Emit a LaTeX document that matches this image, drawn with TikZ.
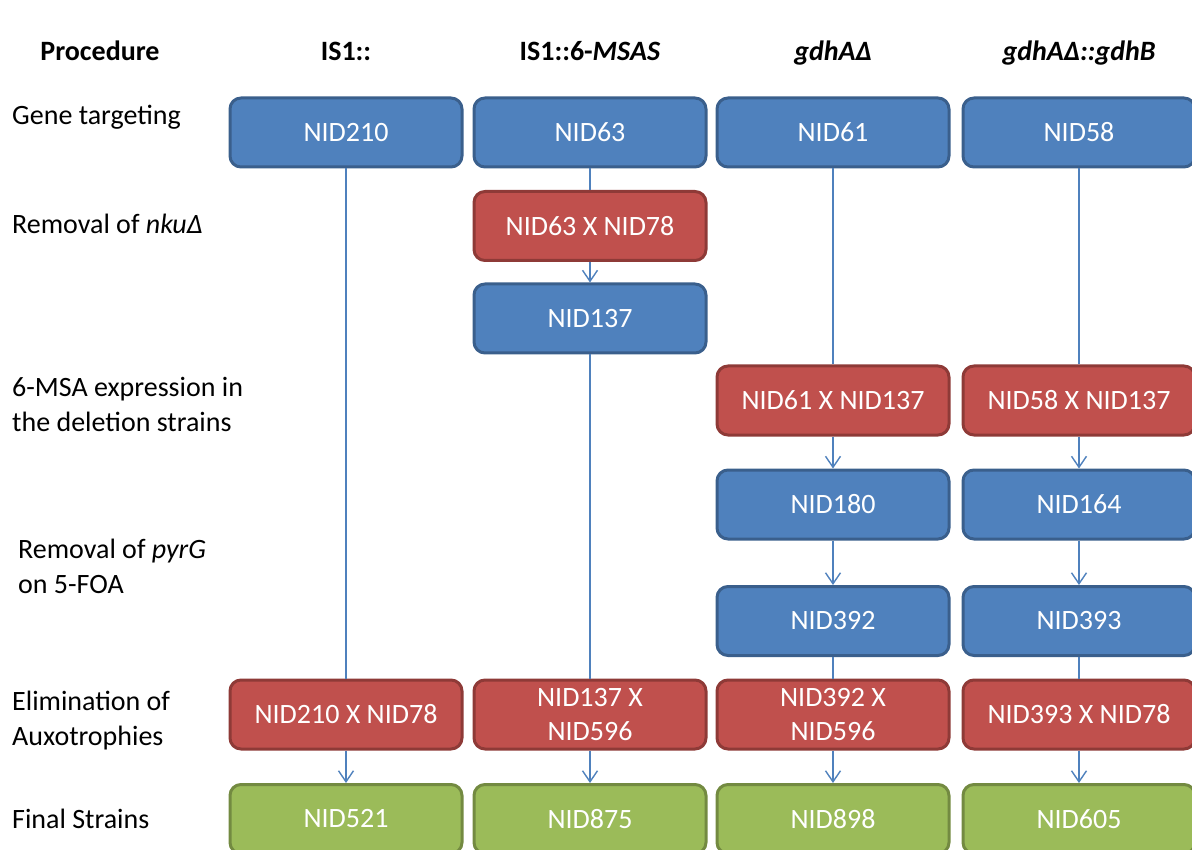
\documentclass[tikz,border=0pt]{standalone}
\usepackage{fontspec}
\setmainfont{Carlito}
\usetikzlibrary{arrows.meta}
\definecolor{bluefill}{HTML}{4F81BD}
\definecolor{blueedge}{HTML}{3A5F8C}
\definecolor{redfill}{HTML}{C0504D}
\definecolor{rededge}{HTML}{8E3A37}
\definecolor{greenfill}{HTML}{9BBB59}
\definecolor{greenedge}{HTML}{738A41}
\begin{document}
\begin{tikzpicture}[x=1pt,y=-1pt,
  box/.style={rectangle, rounded corners=11pt, minimum width=232pt, minimum height=69pt,
    line width=3pt, text=white, align=center, inner sep=0pt,
    font=\fontsize{28}{34}\selectfont},
  bluebox/.style={box, fill=bluefill, draw=blueedge},
  redbox/.style={box, fill=redfill, draw=rededge},
  greenbox/.style={box, fill=greenfill, draw=greenedge},
  link/.style={draw=bluefill, line width=1.4pt},
  arr/.style={link, -{Straight Barb[length=11pt,width=15pt,line width=1.4pt]}},
  lbl/.style={anchor=base west, align=left, inner sep=0pt, font=\fontsize{28}{34.5}\selectfont},
  head/.style={anchor=base, inner sep=0pt, font=\fontsize{28}{34}\selectfont\bfseries}
]
\useasboundingbox (0,0) rectangle (1192,850);

% column headings
\node[head] (hproc) at (100,61) {Procedure};
\node[head] (h1) at (346,61) {IS1::};
\node[head] (h2) at (590,61) {IS1::6-\textit{MSAS}};
\node[head] (h3) at (833,61) {\textit{gdhA}\textit{Δ}};
\node[head] (h4) at (1079,61) {\textit{gdhAΔ::gdhB}};

% row labels (base anchor of a two-line label sits on its last line)
\node[lbl] (l1) at (12,125) {Gene targeting};
\node[lbl] (l2) at (12,234) {Removal of \textit{nkuΔ}};
\node[lbl] (l3) at (12,431) {6-MSA expression in\\the deletion strains};
\node[lbl] (l4) at (18,593) {Removal of \textit{pyrG}\\on 5-FOA};
\node[lbl] (l5) at (12,745) {Elimination of\\Auxotrophies};
\node[lbl] (l6) at (12,828) {Final Strains};

% column 1
\node[bluebox]  (n210) at (346,132.5) {NID210};
\node[redbox]   (x210) at (346,714.5) {NID210 X NID78};
\node[greenbox] (f521) at (346,819) {NID521};

% column 2
\node[bluebox]  (n63)  at (590,132.5) {NID63};
\node[redbox]   (x63)  at (590,226) {NID63 X NID78};
\node[bluebox]  (n137) at (590,318.5) {NID137};
\node[redbox]   (x137) at (590,714.5) {NID137 X\\NID596};
\node[greenbox] (f875) at (590,819) {NID875};

% column 3
\node[bluebox]  (n61)  at (833,132.5) {NID61};
\node[redbox]   (x61)  at (833,400.5) {NID61 X NID137};
\node[bluebox]  (n180) at (833,504.5) {NID180};
\node[bluebox]  (n392) at (833,621) {NID392};
\node[redbox]   (x392) at (833,714.5) {NID392 X\\NID596};
\node[greenbox] (f898) at (833,819) {NID898};

% column 4
\node[bluebox]  (n58)  at (1079,132.5) {NID58};
\node[redbox]   (x58)  at (1079,400.5) {NID58 X NID137};
\node[bluebox]  (n164) at (1079,504.5) {NID164};
\node[bluebox]  (n393) at (1079,621) {NID393};
\node[redbox]   (x393) at (1079,714.5) {NID393 X NID78};
\node[greenbox] (f605) at (1079,819) {NID605};

% connectors
\draw[link] (n210) -- (x210);
\draw[arr]  (x210) -- (f521);

\draw[link] (n63) -- (x63);
\draw[arr]  (x63) -- (n137);
\draw[link] (n137) -- (x137);
\draw[arr]  (x137) -- (f875);

\draw[link] (n61) -- (x61);
\draw[arr]  (x61) -- (n180);
\draw[arr]  (n180) -- (n392);
\draw[link] (n392) -- (x392);
\draw[arr]  (x392) -- (f898);

\draw[link] (n58) -- (x58);
\draw[arr]  (x58) -- (n164);
\draw[arr]  (n164) -- (n393);
\draw[link] (n393) -- (x393);
\draw[arr]  (x393) -- (f605);
\end{tikzpicture}
\end{document}
